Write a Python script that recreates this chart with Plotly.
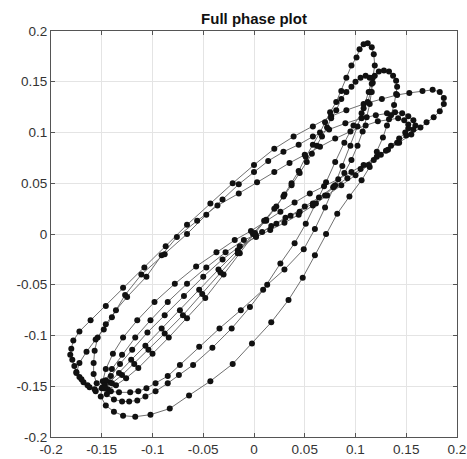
import plotly.graph_objects as go

# Loops of the phase trajectory (x, y)
loop_d = [(-0.150,-0.152),(-0.156,-0.155),(-0.162,-0.151),(-0.168,-0.146),(-0.172,-0.141),(-0.175,-0.136),
          (-0.177,-0.130),(-0.179,-0.124),(-0.181,-0.119),(-0.180,-0.113),(-0.178,-0.105),(-0.172,-0.096),
          (-0.161,-0.085),(-0.146,-0.071),(-0.129,-0.053),(-0.108,-0.033),(-0.087,-0.012),(-0.066,0.009),
          (-0.043,0.030),(-0.021,0.050),(0.000,0.068),(0.020,0.084),(0.039,0.096),(0.058,0.106),
          (0.076,0.116),(0.091,0.122),(0.108,0.128),(0.126,0.133),(0.141,0.137),(0.153,0.139),
          (0.166,0.141),(0.176,0.142),(0.183,0.140),(0.187,0.134),(0.187,0.128),(0.183,0.121),
          (0.177,0.115),(0.170,0.110),(0.164,0.105),(0.155,0.098),(0.143,0.090),(0.132,0.083),
          (0.121,0.076),(0.108,0.068),(0.096,0.061),(0.083,0.054),(0.069,0.047),(0.055,0.040),
          (0.040,0.031),(0.026,0.022),(0.012,0.013),(-0.003,0.003),(-0.019,-0.006),(-0.037,-0.018),
          (-0.057,-0.032),(-0.078,-0.049),(-0.098,-0.067),(-0.115,-0.085),(-0.129,-0.102),(-0.139,-0.118),
          (-0.146,-0.133),(-0.149,-0.145)]

loop_b = [(-0.151,-0.160),(-0.146,-0.169),(-0.138,-0.175),(-0.129,-0.179),(-0.117,-0.180),(-0.102,-0.178),
          (-0.083,-0.172),(-0.064,-0.159),(-0.043,-0.145),(-0.021,-0.128),(-0.002,-0.108),(0.017,-0.087),
          (0.034,-0.065),(0.048,-0.043),(0.060,-0.021),(0.071,0.000),(0.082,0.020),(0.094,0.037),
          (0.106,0.053),(0.114,0.066),(0.121,0.081),(0.127,0.095),(0.131,0.107),(0.135,0.117),
          (0.138,0.127),(0.140,0.138),(0.141,0.145),(0.140,0.151),(0.137,0.156),(0.133,0.160),
          (0.128,0.161),(0.123,0.160),(0.119,0.156),(0.117,0.149),(0.116,0.140),(0.114,0.128),
          (0.111,0.115),(0.107,0.101),(0.102,0.087),(0.096,0.073),(0.089,0.060),(0.080,0.048),
          (0.070,0.038),(0.058,0.030),(0.045,0.022),(0.031,0.016),(0.017,0.008),(0.002,-0.002),
          (-0.016,-0.016),(-0.035,-0.035),(-0.054,-0.055),(-0.073,-0.075),(-0.091,-0.093),(-0.107,-0.110),
          (-0.121,-0.124),(-0.133,-0.137),(-0.142,-0.146),(-0.148,-0.152)]

loop_e1 = [(-0.157,-0.153),(-0.164,-0.149),(-0.170,-0.143),(-0.175,-0.137),(-0.172,-0.127),(-0.165,-0.116),
           (-0.156,-0.104),(-0.148,-0.094),(-0.140,-0.082),(-0.127,-0.060),(-0.111,-0.040),(-0.088,-0.020),
           (-0.066,0.000),(-0.047,0.019),(-0.031,0.034),(-0.015,0.049),(0.000,0.061),(0.014,0.072),
           (0.029,0.081),(0.044,0.088),(0.058,0.096),(0.074,0.103),(0.090,0.109),(0.106,0.114),
           (0.120,0.117),(0.131,0.119),(0.139,0.120),(0.146,0.119),(0.152,0.116),(0.157,0.112),
           (0.159,0.107),(0.157,0.103),(0.150,0.097),(0.141,0.090),(0.130,0.082),(0.118,0.073),
           (0.105,0.064),(0.092,0.055),(0.078,0.046),(0.064,0.036),(0.050,0.027),(0.036,0.018),
           (0.022,0.010),(0.008,0.002),(-0.010,-0.006),(-0.028,-0.018),(-0.047,-0.033),(-0.066,-0.049),
           (-0.085,-0.067),(-0.102,-0.085),(-0.117,-0.102),(-0.130,-0.119),(-0.140,-0.133),(-0.146,-0.144),
           (-0.149,-0.151)]

loop_a = [(-0.145,-0.158),(-0.138,-0.163),(-0.130,-0.165),(-0.123,-0.165),(-0.115,-0.164),(-0.107,-0.160),
          (-0.097,-0.155),(-0.085,-0.147),(-0.074,-0.139),(-0.060,-0.129),(-0.041,-0.112),(-0.022,-0.093),
          (-0.004,-0.072),(0.013,-0.050),(0.030,-0.035),(0.049,-0.015),(0.060,0.005),(0.070,0.026),
          (0.079,0.047),(0.087,0.067),(0.095,0.087),(0.102,0.106),(0.108,0.124),(0.113,0.140),
          (0.117,0.154),(0.119,0.166),(0.118,0.177),(0.116,0.184),(0.112,0.188),(0.108,0.187),
          (0.104,0.182),(0.101,0.174),(0.096,0.166),(0.091,0.154),(0.086,0.141),(0.081,0.130),
          (0.075,0.120),(0.070,0.110),(0.065,0.100),(0.058,0.088),(0.051,0.076),(0.044,0.062),
          (0.037,0.050),(0.030,0.039),(0.022,0.027),(0.012,0.014),(0.001,0.001),(-0.014,-0.019),
          (-0.030,-0.040),(-0.048,-0.063),(-0.066,-0.083),(-0.084,-0.102),(-0.100,-0.118),(-0.114,-0.132),
          (-0.126,-0.142),(-0.136,-0.149),(-0.144,-0.153)]

loop_e2 = [(-0.155,-0.147),(-0.158,-0.138),(-0.158,-0.127),(-0.157,-0.115),(-0.154,-0.102),(-0.146,-0.089),
           (-0.136,-0.075),(-0.125,-0.062),(-0.106,-0.042),(-0.091,-0.021),(-0.076,-0.003),(-0.056,0.013),
           (-0.036,0.028),(-0.015,0.040),(0.003,0.051),(0.020,0.061),(0.035,0.070),(0.050,0.078),
           (0.065,0.086),(0.080,0.094),(0.095,0.101),(0.110,0.107),(0.122,0.111),(0.133,0.113),
           (0.142,0.114),(0.148,0.112),(0.152,0.108),(0.152,0.104),(0.149,0.100),(0.143,0.094),
           (0.135,0.087),(0.125,0.078),(0.113,0.068),(0.100,0.058),(0.086,0.048),(0.072,0.038),
           (0.058,0.028),(0.044,0.019),(0.030,0.011),(0.016,0.004),(0.002,-0.003),(-0.014,-0.012),
           (-0.031,-0.025),(-0.050,-0.042),(-0.069,-0.061),(-0.088,-0.080),(-0.105,-0.097),(-0.120,-0.114),
           (-0.132,-0.128),(-0.141,-0.140),(-0.147,-0.149)]

loop_c = [(-0.141,-0.155),(-0.133,-0.156),(-0.122,-0.156),(-0.114,-0.155),(-0.106,-0.152),(-0.097,-0.147),
          (-0.085,-0.140),(-0.073,-0.129),(-0.054,-0.111),(-0.034,-0.093),(-0.013,-0.075),(0.009,-0.055),
          (0.026,-0.029),(0.040,-0.009),(0.051,0.010),(0.061,0.030),(0.071,0.051),(0.080,0.071),
          (0.089,0.090),(0.098,0.107),(0.106,0.119),(0.112,0.130),(0.115,0.140),(0.116,0.148),
          (0.114,0.154),(0.110,0.156),(0.105,0.154),(0.100,0.150),(0.096,0.145),(0.091,0.140),
          (0.086,0.133),(0.081,0.122),(0.076,0.114),(0.072,0.105),(0.067,0.096),(0.062,0.087),
          (0.057,0.079),(0.052,0.071),(0.045,0.060),(0.037,0.048),(0.029,0.037),(0.020,0.025),
          (0.010,0.013),(-0.001,0.000),(-0.016,-0.019),(-0.033,-0.038),(-0.051,-0.059),(-0.070,-0.080),
          (-0.088,-0.098),(-0.104,-0.114),(-0.118,-0.128),(-0.130,-0.139),(-0.140,-0.147),(-0.147,-0.152)]

tick_vals = [-0.2, -0.15, -0.1, -0.05, 0, 0.05, 0.1, 0.15, 0.2]
tick_text = ["-0.2", "-0.15", "-0.1", "-0.05", "0", "0.05", "0.1", "0.15", "0.2"]

trajectory = loop_d + loop_b + loop_e1 + loop_a + loop_e2 + loop_c
xs = [p[0] for p in trajectory]
ys = [p[1] for p in trajectory]

fig = go.Figure()
fig.add_trace(go.Scatter(
    x=xs, y=ys, mode="lines+markers",
    line=dict(color="#707070", width=1),
    marker=dict(color="#111111", size=6, line=dict(width=0)),
    showlegend=False, hoverinfo="skip", cliponaxis=False))

axis_common = dict(
    range=[-0.2, 0.2], tickmode="array", tickvals=tick_vals, ticktext=tick_text,
    showgrid=True, gridcolor="#e4e4e4", gridwidth=1, automargin=False,
    zeroline=False, showline=True, linecolor="#555555", linewidth=1, mirror="ticks",
    ticks="inside", ticklen=4, tickcolor="#555555",
    tickfont=dict(family="Liberation Sans, Arial, sans-serif", size=13.5, color="#333333"),
)

W, H = 467, 459
fig.update_layout(
    width=W, height=H,
    margin=dict(l=51, r=10, t=31, b=22, pad=0, autoexpand=False),
    paper_bgcolor="white", plot_bgcolor="white",
    title=dict(text="<b>Full phase plot</b>", x=254 / W, xanchor="center",
               y=1 - 19 / H, yanchor="middle", yref="container", automargin=False,
               font=dict(family="Liberation Sans, Arial, sans-serif", size=15, color="#111111")),
    xaxis=axis_common, yaxis=axis_common,
)

# remove the page's default body margin so the figure sits at the window's corner
fig.write_html("out.html",
               config={"displayModeBar": False, "staticPlot": True},
               post_script="document.body.style.margin='0';document.body.style.overflow='hidden';")
